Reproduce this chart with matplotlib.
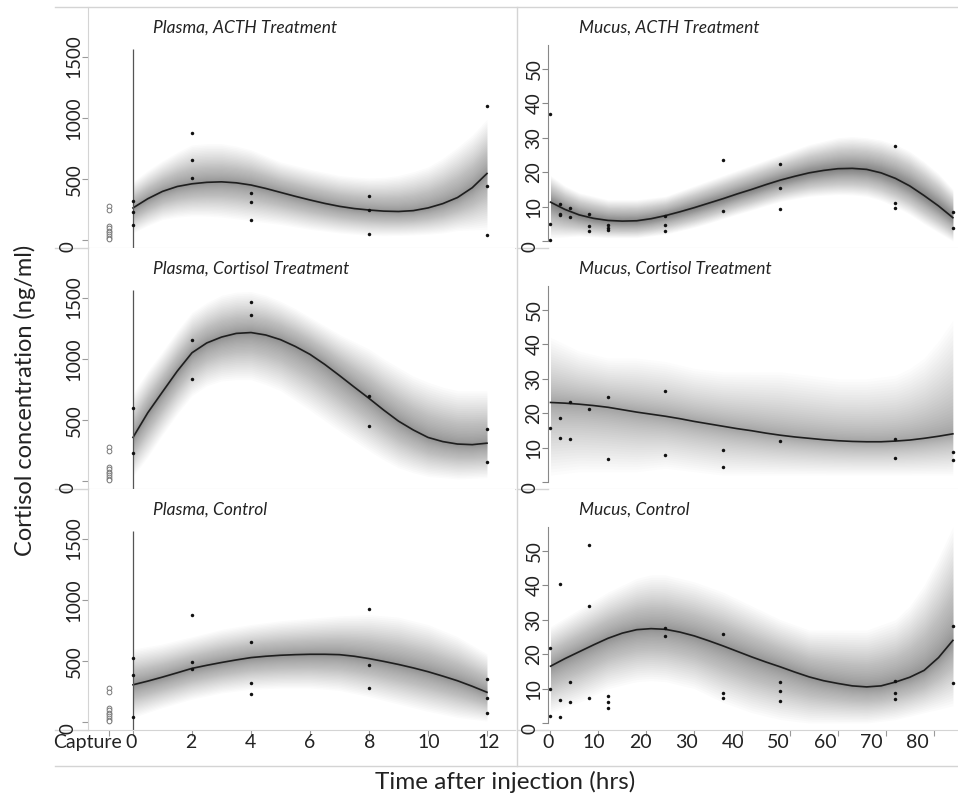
import numpy as np
import matplotlib.pyplot as plt
from matplotlib.lines import Line2D

plt.rcParams['font.family'] = ['Lato', 'DejaVu Sans']

W, H = 958, 799

## plasma panels: hours after injection (curve read every half hour)
plasma_grid = [0, 0.5, 1, 1.5, 2, 2.5, 3, 3.5, 4, 4.5, 5, 5.5, 6, 6.5,
               7, 7.5, 8, 8.5, 9, 9.5, 10, 10.5, 11, 11.5, 12]
plasma_times = [0, 0, 0, 2, 2, 2, 4, 4, 4, 8, 8, 8, 12, 12, 12]
capture_vals = [279, 252, 115, 98, 76, 66, 49, 33, 19, 8]

## Plasma, ACTH
pa_mean = [265, 340, 400, 440, 462, 474, 478, 470, 452, 424, 392, 360, 330,
           302, 278, 260, 248, 239, 236, 243, 265, 300, 350, 430, 546]
pa_lo = [60, 120, 170, 190, 200, 198, 190, 176, 160, 145, 130, 110, 90,
         75, 60, 50, 40, 38, 40, 44, 50, 60, 80, 85, 90]
pa_hi = [480, 570, 650, 720, 780, 790, 790, 770, 740, 690, 640, 610, 580,
         555, 530, 518, 510, 515, 530, 560, 600, 670, 760, 860, 990]
pa_pts = [320, 232, 128, 874, 656, 511, 388, 314, 164, 361, 251, 55, 1098, 448, 41]

## Plasma, Cortisol
pc_mean = [359, 560, 731, 900, 1050, 1130, 1178, 1208, 1215, 1195, 1157, 1102, 1037,
           955, 864, 770, 678, 582, 492, 420, 359, 325, 305, 300, 312]
pc_lo = [40, 200, 380, 550, 700, 780, 820, 830, 830, 790, 740, 660, 580,
         495, 410, 330, 250, 175, 110, 70, 40, 30, 20, 25, 30]
pc_hi = [720, 900, 1060, 1230, 1380, 1460, 1520, 1545, 1550, 1520, 1470, 1410, 1340,
         1270, 1200, 1140, 1080, 1000, 930, 860, 810, 770, 740, 740, 740]
pc_times = [0, 0, 2, 2, 4, 4, 8, 8, 12, 12]
pc_pts = [598, 231, 1152, 835, 1463, 1356, 697, 452, 430, 160]

## Plasma, Control
pn_mean = [307, 337, 370, 405, 441, 466, 489, 510, 529, 540, 548, 553, 556,
           556, 553, 540, 521, 498, 473, 445, 414, 378, 340, 295, 246]
pn_lo = [40, 80, 120, 155, 190, 215, 240, 255, 270, 275, 280, 280, 280,
         270, 260, 235, 210, 180, 150, 120, 90, 65, 40, 25, 10]
pn_hi = [600, 620, 640, 670, 700, 730, 760, 780, 800, 815, 830, 840, 850,
         860, 870, 875, 880, 870, 860, 830, 800, 750, 700, 630, 560]
pn_pts = [524, 388, 45, 874, 492, 433, 660, 321, 230, 925, 465, 278, 356, 200, 78]

## mucus panels (curve read every 3 hours)
mucus_grid = [0, 3, 6, 9, 12, 15, 18, 21, 24, 27, 30, 33, 36, 39, 42, 45, 48,
              51, 54, 57, 60, 63, 66, 69, 72, 75, 78, 81, 84]

## Mucus, ACTH
ma_mean = [11.3, 9.2, 7.6, 6.6, 6.0, 5.8, 5.9, 6.5, 7.4, 8.5, 9.7, 11.0, 12.3, 13.7, 15.0,
           16.4, 17.7, 18.8, 19.8, 20.5, 21.0, 21.1, 20.8, 19.8, 18.2, 16.0, 13.2, 10.2, 6.8]
ma_lo = [1, 1.2, 1.5, 1.2, 1, 1, 1, 1.5, 2, 3, 4, 5.2, 6.5, 7.8, 9,
         10.3, 11.5, 12.3, 13, 13.3, 13.5, 13.4, 13, 11.8, 10, 7.8, 5, 2.5, 0]
ma_hi = [19, 16, 14, 13, 12, 12, 12, 12.5, 13, 14.5, 16, 17.5, 19, 20.5, 22,
         23.5, 25, 26.5, 28, 29, 30, 30.3, 30, 29.3, 28, 26, 23, 19.5, 15]
ma_times = [0, 0, 0, 2, 2, 2, 4, 4, 8, 8, 8, 12, 12, 12, 24, 24, 24,
            36, 36, 48, 48, 48, 72, 72, 72, 84, 84]
ma_pts = [36.9, 5.0, 0.3, 10.8, 7.9, 7.6, 9.7, 7.0, 7.9, 4.3, 2.9, 4.8, 3.9, 3.2,
          7.4, 4.8, 2.9, 23.4, 8.7, 22.5, 15.3, 9.2, 27.5, 11.1, 9.5, 8.4, 3.7]

## Mucus, Cortisol
mc_mean = [23.1, 22.9, 22.6, 22.2, 21.7, 21.0, 20.3, 19.7, 19.1, 18.4, 17.6, 16.9, 16.2, 15.5, 14.9,
           14.2, 13.6, 13.1, 12.7, 12.3, 12.0, 11.8, 11.7, 11.7, 11.9, 12.2, 12.7, 13.3, 14.0]
mc_lo = [2, 2.5, 3, 3, 3, 3, 3, 3.5, 4, 3.5, 3, 2.5, 2, 2, 2,
         2, 2, 2, 2, 2, 2, 2, 2, 2, 2, 2, 2, 2, 2]
mc_hi = [42, 40, 38, 37, 36, 36, 36, 35.5, 35, 34, 33, 32.5, 32, 32, 32,
         32, 32, 31.5, 31, 30.5, 30, 30, 30, 30.5, 31, 33, 36, 41, 47]
mc_times = [0, 2, 2, 4, 4, 8, 12, 12, 24, 24, 36, 36, 48, 72, 72, 84, 84]
mc_pts = [15.8, 18.6, 12.7, 23.1, 12.4, 21.2, 24.7, 6.7, 26.5, 7.9, 9.3, 4.4,
          12.0, 12.5, 7.1, 8.6, 6.3]

## Mucus, Control
mn_mean = [16.5, 18.7, 20.7, 22.7, 24.6, 26.1, 27.1, 27.4, 27.2, 26.4, 25.3, 23.9, 22.4, 20.8, 19.2,
           17.7, 16.3, 14.8, 13.4, 12.3, 11.5, 10.8, 10.5, 10.8, 11.9, 13.3, 15.3, 19.0, 24.0]
mn_lo = [3, 4.5, 6, 8, 10, 11, 12, 12.3, 12, 11, 10, 8, 6, 4.5, 3,
         2, 1, 0.5, 0, 0, 0, 0, 0, 0.5, 1, 2, 3, 4, 5]
mn_hi = [28, 30.5, 33, 35.5, 38, 40, 42, 43, 43, 42, 41, 39.5, 38, 36, 34,
         32, 30, 28.5, 27, 27, 27, 27, 27, 28.5, 30, 34, 40, 48, 57]
mn_times = [0, 0, 0, 2, 2, 2, 4, 4, 8, 8, 8, 12, 12, 12, 24, 24, 36, 36, 36,
            48, 48, 48, 72, 72, 72, 84, 84]
mn_pts = [21.9, 9.8, 2.0, 40.3, 6.7, 1.9, 11.8, 6.0, 51.6, 34.0, 7.4, 7.8, 6.1, 4.4,
          27.5, 25.2, 25.7, 8.8, 7.3, 11.9, 9.4, 6.4, 12.1, 8.6, 6.9, 28.3, 11.5]

plasma_panels = [
    ('Plasma, ACTH Treatment', pa_mean, pa_lo, pa_hi, plasma_times, pa_pts, 0.016),
    ('Plasma, Cortisol Treatment', pc_mean, pc_lo, pc_hi, pc_times, pc_pts, 0.016),
    ('Plasma, Control', pn_mean, pn_lo, pn_hi, plasma_times, pn_pts, 0.015),
]
mucus_panels = [
    ('Mucus, ACTH Treatment', ma_mean, ma_lo, ma_hi, ma_times, ma_pts, 0.021),
    ('Mucus, Cortisol Treatment', mc_mean, mc_lo, mc_hi, mc_times, mc_pts, 0.010),
    ('Mucus, Control', mn_mean, mn_lo, mn_hi, mn_times, mn_pts, 0.015),
]
plasma_ticks = [0, 2, 4, 6, 8, 10, 12]
mucus_ticks = [0, 10, 20, 30, 40, 50, 60, 70, 80]

FRAME = '#d4d4d4'
TXT = '#222222'
row_top = [7, 248, 489]
row_bot = [248, 489, 730]


def draw_band(ax, x, mean, lo, hi, alpha, n=32):
    x = np.asarray(x, float)
    m = np.asarray(mean, float)
    lo = np.asarray(lo, float)
    hi = np.asarray(hi, float)
    for k in range(1, n + 1):
        f = (k / n) ** 1.4
        ax.fill_between(x, m - f * (m - lo), m + f * (hi - m),
                        color='k', alpha=alpha, lw=0)
    ax.plot(x, m, color='#1e1e1e', lw=1.2)


def fig_line(fig, x0, y0, x1, y1, color=FRAME):
    fig.add_artist(Line2D([x0 / W, x1 / W], [1 - y0 / H, 1 - y1 / H],
                          transform=fig.transFigure, color=color, lw=1))


fig = plt.figure(figsize=(W / 100, H / 100), dpi=100)

for i, (title, mean, lo, hi, times, pts, dens) in enumerate(plasma_panels):
    top, bot = row_top[i], row_bot[i]
    ax = fig.add_axes([88 / W, 1 - bot / H, 427 / W, (bot - top) / H])
    ax.set_xlim(-1.525, 12.95)
    ax.set_ylim(-62, 1905)
    for s in ['top', 'right']:
        ax.spines[s].set_visible(False)
    ax.spines['left'].set_color(FRAME)
    ax.spines['bottom'].set_color(FRAME)

    draw_band(ax, plasma_grid, mean, lo, hi, dens)
    ax.vlines(0, -62, 1565, color='#555555', lw=0.9)
    ax.plot(times, pts, 'o', ms=2.5, color='#111111', mec='none')
    ax.plot([-0.8] * len(capture_vals), capture_vals, 'o', ms=3.4,
            mfc='white', mec='#777777', mew=0.7)

    ax.set_yticks([0, 500, 1000, 1500])
    ax.set_yticklabels(['', '500', '1000', '1500'], va='center')
    ax.tick_params(axis='y', length=4, color='#9a9a9a', labelsize=13.5,
                   labelrotation=90, pad=0, labelcolor=TXT)
    ax.set_xticks([-0.8] + plasma_ticks)
    ax.set_xticklabels([])
    ax.tick_params(axis='x', length=4, color='#9a9a9a')
    fig.text(68 / W, 1 - (bot - 1) / H, '0', rotation=90, ha='center',
             va='center', fontsize=13.5, color=TXT)
    ax.text(0.152, 0.915, title, transform=ax.transAxes, style='italic',
            fontsize=12.5, ha='left', va='center', color=TXT)
    fig_line(fig, 55, bot, 88, bot)

    if i == 2:
        lab = ax.twiny()
        lab.set_xlim(-1.297, 12.899)
        lab.xaxis.set_ticks_position('bottom')
        lab.set_xticks([-1.45] + plasma_ticks)
        lab.set_xticklabels(['Capture'] + [str(t) for t in plasma_ticks])
        lab.tick_params(axis='x', length=0, labelsize=14, pad=3,
                        labelcolor=TXT)
        for s in lab.spines.values():
            s.set_visible(False)

for i, (title, mean, lo, hi, times, pts, dens) in enumerate(mucus_panels):
    top, bot = row_top[i], row_bot[i]
    ax = fig.add_axes([548 / W, 1 - bot / H, 410 / W, (bot - top) / H])
    ax.set_xlim(-0.52, 85.07)
    ax.set_ylim(-2.0, 67.9)
    for s in ['top', 'right']:
        ax.spines[s].set_visible(False)
    ax.spines['left'].set_color('#888888')
    ax.spines['left'].set_bounds(0, 57)
    ax.spines['bottom'].set_color(FRAME)

    draw_band(ax, mucus_grid, mean, lo, hi, dens)
    ax.plot(times, pts, 'o', ms=2.5, color='#111111', mec='none')

    ax.set_yticks([0, 10, 20, 30, 40, 50])
    ax.set_yticklabels(['', '10', '20', '30', '40', '50'], va='center')
    ax.tick_params(axis='y', length=4, color='#888888', labelsize=13.5,
                   labelrotation=90, pad=0, labelcolor=TXT)
    ax.set_xticks(mucus_ticks)
    ax.set_xticklabels([])
    ax.tick_params(axis='x', length=4, color='#9a9a9a')
    fig.text(530 / W, 1 - (bot - 1) / H, '0', rotation=90, ha='center',
             va='center', fontsize=13.5, color=TXT)
    ax.text(0.076, 0.915, title, transform=ax.transAxes, style='italic',
            fontsize=12.5, ha='left', va='center', color=TXT)
    fig_line(fig, 517, bot, 548, bot)

    if i == 2:
        lab = ax.twiny()
        lab.set_xlim(0.431, 88.84)
        lab.xaxis.set_ticks_position('bottom')
        lab.set_xticks(mucus_ticks)
        lab.set_xticklabels([str(t) for t in mucus_ticks])
        lab.tick_params(axis='x', length=0, labelsize=14, pad=3,
                        labelcolor=TXT)
        for s in lab.spines.values():
            s.set_visible(False)

# outer frame
fig_line(fig, 55, 7, 958, 7)
fig_line(fig, 55, 766, 958, 766)
fig_line(fig, 517, 7, 517, 766)

fig.text(25 / W, 1 - 400 / H, 'Cortisol concentration (ng/ml)', rotation=90,
         ha='center', va='center', fontsize=17, color=TXT)
fig.text(505 / W, 1 - 782 / H, 'Time after injection (hrs)',
         ha='center', va='center', fontsize=17.5, color=TXT)

fig.savefig('out.png', dpi=100)
